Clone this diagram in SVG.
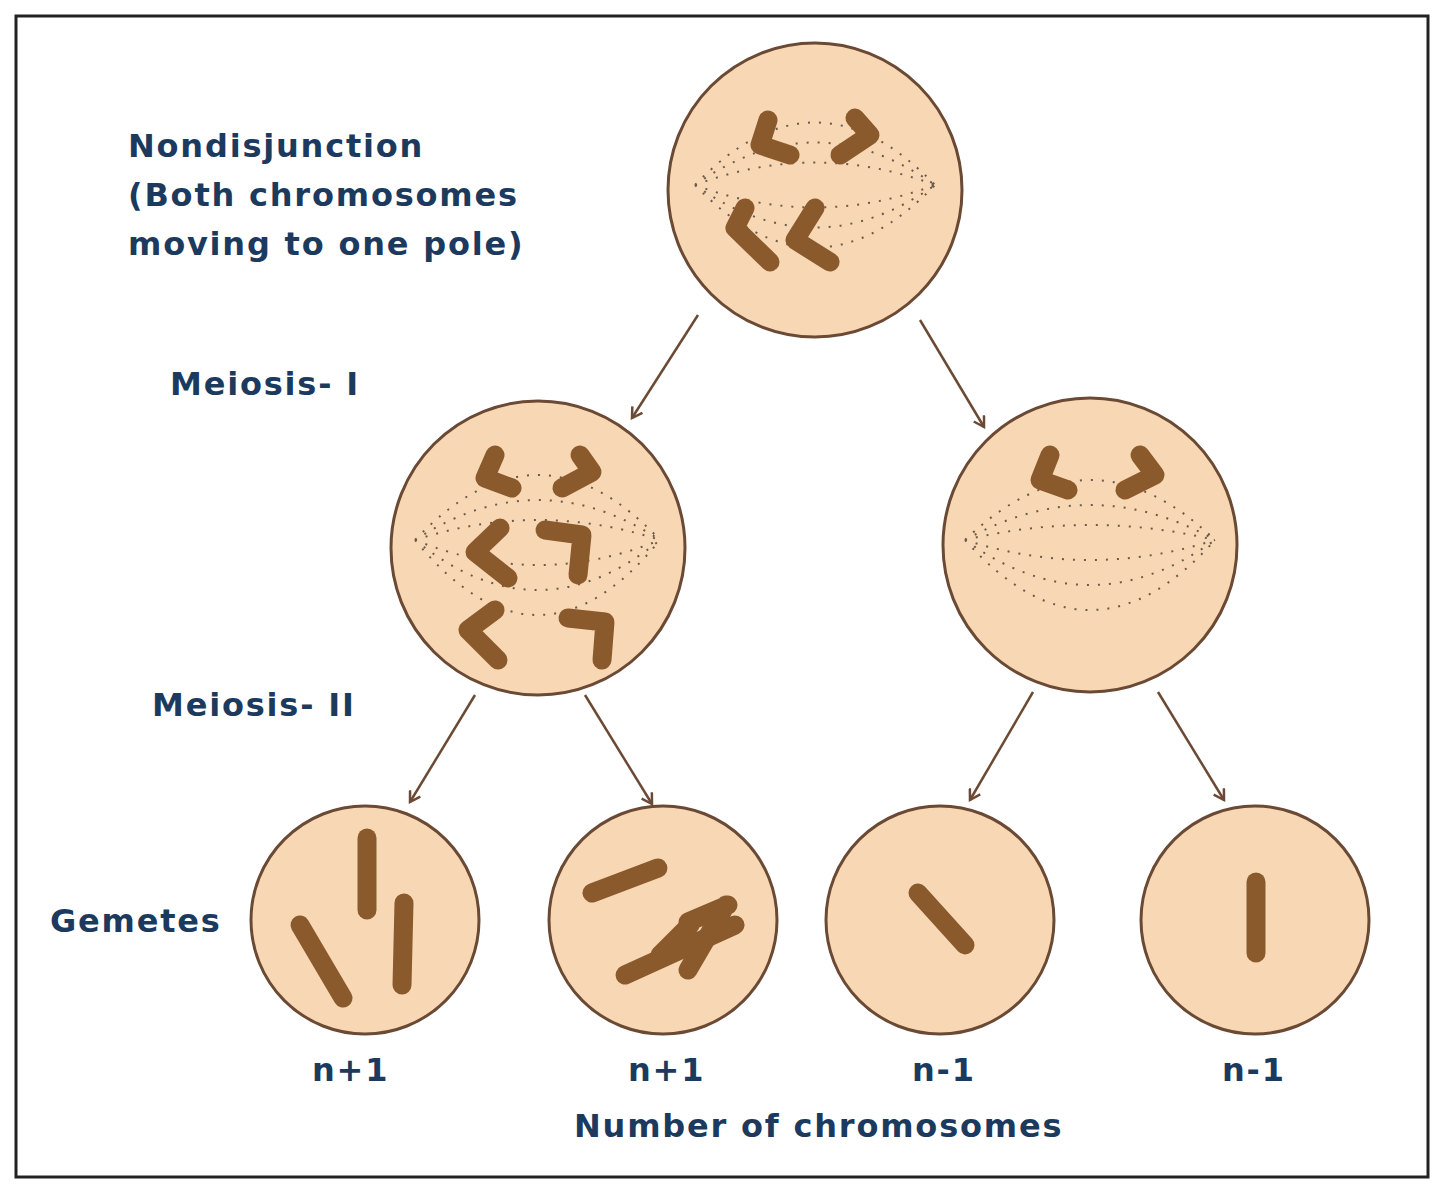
<svg xmlns="http://www.w3.org/2000/svg" width="1440" height="1187" viewBox="0 0 1440 1187">
<defs>
<marker id="ah" markerWidth="14" markerHeight="14" refX="11" refY="7" orient="auto" markerUnits="userSpaceOnUse"><path d="M1,1 L11,7 L1,13" fill="none" stroke="#6b4a35" stroke-width="2.5"/></marker>
</defs>
<style>
.cell{fill:#f8d8b4;stroke:#6b4a35;stroke-width:3}
.chr{fill:none;stroke:#8a5a2c;stroke-width:19;stroke-linecap:round;stroke-linejoin:round}
.sp{fill:none;stroke:#6b5a4a;stroke-width:2;stroke-dasharray:2 9}
.lbl{font-family:"DejaVu Sans",Verdana,sans-serif;font-weight:bold;font-size:32px;letter-spacing:1.8px;fill:#1c3a5e}
.con{stroke:#6b4a35;stroke-width:2.5;fill:none;marker-end:url(#ah)}
</style>
<rect x="16" y="16" width="1412" height="1161" fill="#fff" stroke="#222" stroke-width="3"/>
<g id="labels">
<text class="lbl" x="128" y="157">Nondisjunction</text>
<text class="lbl" x="128" y="206">(Both chromosomes</text>
<text class="lbl" x="128" y="255">moving to one pole)</text>
<text class="lbl" x="170" y="395">Meiosis- I</text>
<text class="lbl" x="152" y="716">Meiosis- II</text>
<text class="lbl" x="50" y="932">Gemetes</text>
<text class="lbl" x="312" y="1081">n+1</text>
<text class="lbl" x="628" y="1081">n+1</text>
<text class="lbl" x="912" y="1081">n-1</text>
<text class="lbl" x="1222" y="1081">n-1</text>
<text class="lbl" x="574" y="1137">Number of chromosomes</text>
</g>
<g id="top">
<circle class="cell" cx="815" cy="190" r="147"/>
<path class="sp" d="M695,185 Q815,60 935,185 M695,185 Q815,100 935,185 M695,185 Q815,140 935,185 M695,185 Q815,230 935,185 M695,185 Q815,270 935,185 M695,185 Q815,310 935,185"/>
<path class="chr" d="M768,120 L760,145 L790,155"/>
<path class="chr" d="M855,118 L870,135 L840,155"/>
<path class="chr" d="M745,208 L735,228 L770,262"/>
<path class="chr" d="M815,208 L795,240 L830,262"/>
</g>
<g id="midleft">
<circle class="cell" cx="538" cy="548" r="147"/>
<path class="sp" d="M415,540 Q538,410 660,540 M415,540 Q538,460 660,540 M415,540 Q538,500 660,540 M415,540 Q538,590 660,540 M415,540 Q538,640 660,540 M415,540 Q538,690 660,540"/>
<path class="chr" d="M495,455 L485,478 L512,488"/>
<path class="chr" d="M580,455 L592,472 L562,488"/>
<path class="chr" d="M500,528 L475,552 L508,578"/>
<path class="chr" d="M545,530 L582,535 L578,575"/>
<path class="chr" d="M495,610 L468,630 L498,660"/>
<path class="chr" d="M568,618 L605,622 L602,660"/>
</g>
<g id="midright">
<circle class="cell" cx="1090" cy="545" r="147"/>
<path class="sp" d="M965,540 Q1090,420 1215,540 M965,540 Q1090,470 1215,540 M965,540 Q1090,510 1215,540 M965,540 Q1090,580 1215,540 M965,540 Q1090,630 1215,540 M965,540 Q1090,680 1215,540"/>
<path class="chr" d="M1050,455 L1040,480 L1068,490"/>
<path class="chr" d="M1140,455 L1155,475 L1125,490"/>
</g>
<g id="g1">
<circle class="cell" cx="365" cy="920" r="114"/>
<path class="chr" d="M367,838 L367,910"/>
<path class="chr" d="M300,925 L343,998"/>
<path class="chr" d="M404,903 L402,985"/>
</g>
<g id="g2">
<circle class="cell" cx="663" cy="920" r="114"/>
<path class="chr" d="M592,893 L658,868"/>
<path class="chr" d="M625,975 L735,925"/>
<path class="chr" d="M688,922 L728,905 M688,970 L726,905"/>
<path class="chr" d="M660,955 L690,925"/>
</g>
<g id="g3">
<circle class="cell" cx="940" cy="920" r="114"/>
<path class="chr" d="M918,893 L965,945"/>
</g>
<g id="g4">
<circle class="cell" cx="1255" cy="920" r="114"/>
<path class="chr" d="M1256,882 L1256,953"/>
</g>
<g id="connectors">
<line class="con" x1="698" y1="315" x2="632" y2="418"/>
<line class="con" x1="920" y1="320" x2="984" y2="427"/>
<line class="con" x1="475" y1="695" x2="410" y2="802"/>
<line class="con" x1="585" y1="695" x2="652" y2="804"/>
<line class="con" x1="1033" y1="692" x2="970" y2="800"/>
<line class="con" x1="1158" y1="692" x2="1224" y2="800"/>
</g>
</svg>
